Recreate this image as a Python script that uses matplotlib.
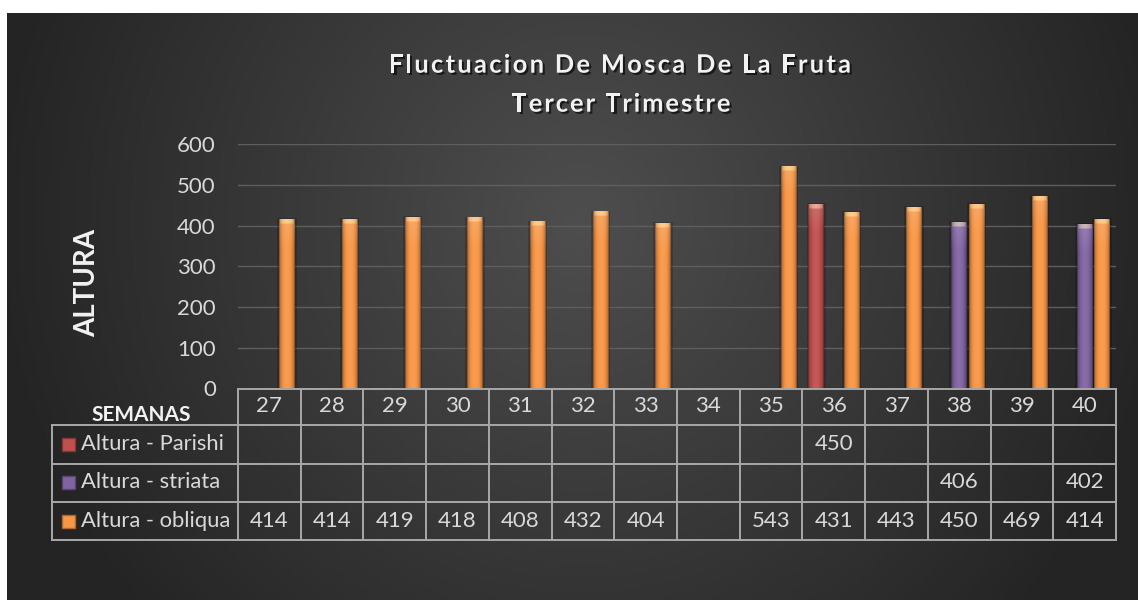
import numpy as np
import matplotlib
matplotlib.use("Agg")
import matplotlib.pyplot as plt
import matplotlib.patheffects as pe
from matplotlib.font_manager import FontProperties
from matplotlib.patches import Rectangle
from matplotlib.colors import to_rgb

# --- data ---
weeks = ['27', '28', '29', '30', '31', '32', '33', '34', '35', '36', '37', '38', '39', '40']
series_names = ['Altura - Parishi', 'Altura - striata', 'Altura - obliqua']
parishi = [None, None, None, None, None, None, None, None, None, 450, None, None, None, None]
striata = [None, None, None, None, None, None, None, None, None, None, None, 406, None, 402]
obliqua = [414, 414, 419, 418, 408, 432, 404, None, 543, 431, 443, 450, 469, 414]

series = [parishi, striata, obliqua]
colors = ['#c0504d', '#8064a2', '#f79646']
offsets = [-0.28, 0.0, 0.28]
bar_w = 0.25

W, H = 1138, 600
FONT = 'Lato'
TXT = '#d9d9d9'

fig = plt.figure(figsize=(W / 100, H / 100), dpi=100)
fig.patch.set_facecolor('white')

# dark radial gradient background (white margin top/left like the screenshot)
bg = fig.add_axes([7 / W, 0, 1 - 7 / W, 1 - 13 / H], zorder=-10)
bg.set_axis_off()
yy, xx = np.mgrid[13:600, 7:1138]
r = np.sqrt(((xx - 580) / 590.0) ** 2 + ((yy - 220) / 600.0) ** 2)
v = (36 + 42 * np.clip(1 - r, 0, 1)) / 255.0
bg.imshow(np.dstack([v, v, v]), aspect='auto', interpolation='bilinear')

# main plot area in pixel terms
x0p, x1p, top_p, base_p = 238, 1116, 144, 388.5
ax = fig.add_axes([x0p / W, 1 - base_p / H, (x1p - x0p) / W, (base_p - top_p) / H])
ax.set_facecolor('none')
for s in ax.spines.values():
    s.set_visible(False)


def shade(rgb, f):
    rgb = np.asarray(rgb)
    if f <= 1:
        return rgb * f
    return rgb + (1 - rgb) * (f - 1)


def bar_image(color, h):
    base = np.array(to_rgb(color))
    ncol = 24
    t = np.linspace(0, 1, ncol)
    prof = 0.5 + 0.56 * np.sin(np.pi * t) ** 0.45
    nrow = max(int(h), 2)
    img = np.zeros((nrow, ncol, 3))
    for i in range(nrow):
        d = i  # distance from the top in data units
        for j in range(ncol):
            c = shade(base, prof[j])
            if d < 11:
                c = c + (np.array([1.0, 0.95, 0.75]) - c) * 0.55 * np.sin(np.pi * t[j]) ** 0.4
            elif d < 70:
                c = c + (1 - c) * 0.1 * (70 - d) / 59
            img[i, j] = np.clip(c, 0, 1)
    return img


for vals, col, off in zip(series, colors, offsets):
    for i, val in enumerate(vals):
        if val is None:
            continue
        xa = i + off - bar_w / 2
        ax.add_patch(Rectangle((xa - 0.03, 0), bar_w + 0.06, val + 4, color='black',
                               alpha=0.18, lw=0, zorder=2))
        ax.imshow(bar_image(col, val), extent=[xa, xa + bar_w, 0, val], aspect='auto',
                  interpolation='bilinear', zorder=3)

ax.set_xlim(-0.5, len(weeks) - 0.5)
ax.set_ylim(0, 600)
ax.set_yticks(range(0, 601, 100))
ax.set_xticks([])
ax.tick_params(axis='y', length=0, pad=16, labelcolor=TXT, labelsize=16)
for lab in ax.get_yticklabels():
    lab.set_fontfamily(FONT)
ax.grid(axis='y', color='#5e5e5e', lw=1.0)
ax.set_axisbelow(True)

# --- data table under the plot ---
def fx(px):
    return (px - x0p) / (x1p - x0p)


def fy(py):
    return (base_p - py) / (base_p - top_p)


line_kw = dict(color='#a8a8a8', lw=1.4, transform=ax.transAxes, clip_on=False, zorder=5)
rows_y = [425, 463.5, 502, 540]
ax.plot([0, 1], [0, 0], **line_kw)
for ry in rows_y:
    ax.plot([fx(52), 1], [fy(ry), fy(ry)], **line_kw)
n = len(weeks)
for i in range(n + 1):
    ax.plot([i / n, i / n], [0, fy(rows_y[-1])], **line_kw)
ax.plot([fx(52), fx(52)], [fy(rows_y[0]), fy(rows_y[-1])], **line_kw)

cell_kw = dict(transform=ax.transAxes, ha='center', va='center', color=TXT,
               fontsize=16, family=FONT, clip_on=False)
for i, wk in enumerate(weeks):
    ax.text((i + 0.5) / n, fy(406.5), wk, **cell_kw)

row_centers = [444, 482.5, 521]
for vals, name, col, cy in zip(series, series_names, colors, row_centers):
    for i, val in enumerate(vals):
        if val is not None:
            ax.text((i + 0.5) / n, fy(cy), str(val), **cell_kw)
    key = Rectangle((fx(62), fy(cy + 6.5)), fx(75) - fx(62), fy(cy - 6.5) - fy(cy + 6.5),
                    transform=ax.transAxes, clip_on=False, facecolor=col,
                    edgecolor=shade(to_rgb(col), 0.7), lw=1, zorder=6)
    ax.add_patch(key)
    ax.text(fx(81), fy(cy), name, transform=ax.transAxes, ha='left', va='center',
            color=TXT, fontsize=15.8, family=FONT, clip_on=False)

fig.text(141 / W, 1 - 415 / H, 'SEMANAS', ha='center', va='center', color='#f2f2f2',
         fontsize=15, fontweight='bold', family=FONT)
fig.text(87 / W, 1 - 283 / H, 'ALTURA', ha='center', va='center', rotation=90,
         color='#f2f2f2', fontsize=20, fontweight='bold', family=FONT)


# --- letter-spaced title ---
def spaced_text(s, cx, baseline, width, size):
    prop = FontProperties(family=FONT, weight='bold', size=size)
    rend = fig.canvas.get_renderer()

    def tw(txt):
        return rend.get_text_width_height_descent(txt, prop, ismath=False)[0]

    ref = tw('|')
    lefts = [0 if k == 0 else tw(s[:k] + '|') - ref for k in range(len(s))]
    gap = (width - tw(s)) / (len(s) - 1)
    left = cx - width / 2
    shadow = [pe.withSimplePatchShadow(offset=(1.5, -1.5), shadow_rgbFace='black', alpha=0.6)]
    for k, ch in enumerate(s):
        if ch == ' ':
            continue
        fig.text((left + lefts[k] + k * gap) / W, 1 - baseline / H, ch, fontproperties=prop,
                 color='#f2f2f2', ha='left', va='baseline', path_effects=shadow)


spaced_text('Fluctuacion De Mosca De La Fruta', 620, 72.7, 462, 18.3)
spaced_text('Tercer Trimestre', 621, 111.7, 219, 18.3)

fig.savefig('out.png', dpi=100)
